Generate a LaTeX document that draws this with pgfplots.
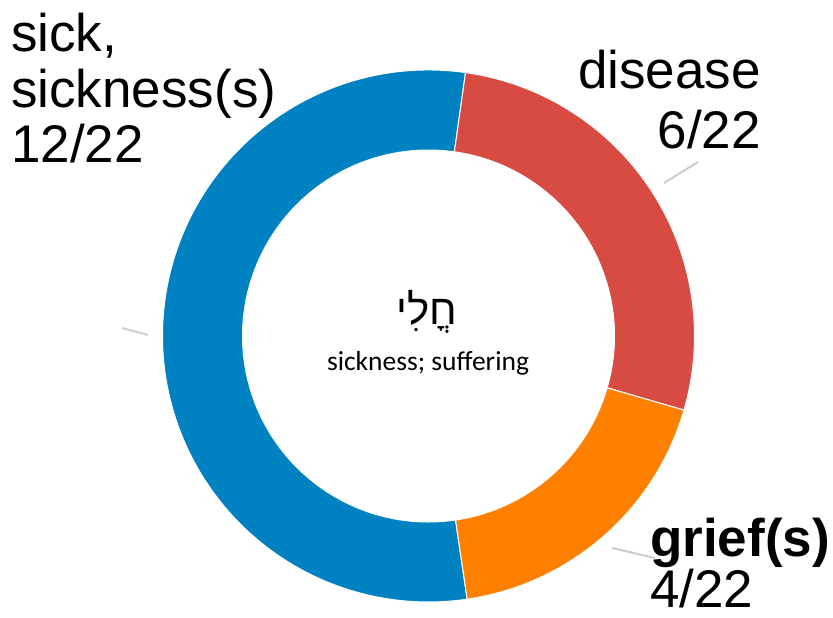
\documentclass[border=0pt]{standalone}
\usepackage{fontspec}
\usepackage{pgfplots}
\usepackage{pgfplotstable}
\pgfplotsset{compat=1.18}
\setmainfont{Liberation Sans}
\newfontfamily\calib{Carlito}
\newfontfamily\hebfont[Script=Hebrew]{Liberation Sans}
\TeXXeTstate=1
\definecolor{sickblue}{RGB}{0,129,194}
\definecolor{disred}{RGB}{215,75,67}
\definecolor{grieforange}{RGB}{255,128,0}
\definecolor{leader}{RGB}{204,204,204}

\pgfplotstableread{
label value
sick 12
disease 6
grief 4
}\slices

\begin{document}
\begin{tikzpicture}
\pgfplotstablegetelem{0}{value}\of\slices \pgfmathsetmacro{\vA}{\pgfplotsretval}
\pgfplotstablegetelem{1}{value}\of\slices \pgfmathsetmacro{\vB}{\pgfplotsretval}
\pgfplotstablegetelem{2}{value}\of\slices \pgfmathsetmacro{\vC}{\pgfplotsretval}
\pgfmathsetmacro{\tot}{\vA+\vB+\vC}
% start at 82 degrees, disease and grief clockwise, sick counter-clockwise
\pgfmathsetmacro{\aS}{82}
\pgfmathsetmacro{\aB}{\aS-360*\vB/\tot}
\pgfmathsetmacro{\aC}{\aB-360*\vC/\tot}
\pgfmathsetmacro{\aA}{\aS+360*\vA/\tot}
\def\Ro{266}
\def\Ri{186}
\begin{axis}[
  hide axis, x=1pt, y=1pt, scale only axis,
  xmin=0, xmax=833, ymin=0, ymax=618, clip=false,
]
\coordinate (c) at (axis cs:428.5,282);
% sick
\filldraw[fill=sickblue, draw=white, line width=1pt]
  ([shift={(\aS:\Ro pt)}]c) arc[start angle=\aS, end angle=\aA, radius=\Ro pt]
  -- ([shift={(\aA:\Ri pt)}]c) arc[start angle=\aA, end angle=\aS, radius=\Ri pt] -- cycle;
% disease
\filldraw[fill=disred, draw=white, line width=1pt]
  ([shift={(\aB:\Ro pt)}]c) arc[start angle=\aB, end angle=\aS, radius=\Ro pt]
  -- ([shift={(\aS:\Ri pt)}]c) arc[start angle=\aS, end angle=\aB, radius=\Ri pt] -- cycle;
% grief
\filldraw[fill=grieforange, draw=white, line width=1pt]
  ([shift={(\aC:\Ro pt)}]c) arc[start angle=\aC, end angle=\aB, radius=\Ro pt]
  -- ([shift={(\aB:\Ri pt)}]c) arc[start angle=\aB, end angle=\aC, radius=\Ri pt] -- cycle;
% leader lines
\draw[leader, line width=2pt] (axis cs:122,290) -- (axis cs:148,283);
\draw[leader, line width=2pt] (axis cs:664,435) -- (axis cs:698,456);
\draw[leader, line width=2pt] (axis cs:612,70) -- (axis cs:655,60);
% labels
\tikzset{lbl/.style={inner sep=0pt, font=\fontsize{53}{56}\selectfont}}
\node[lbl, anchor=base west] at (axis cs:11,566) {sick,};
\node[lbl, anchor=base west] at (axis cs:11,510) {sickness(s)};
\node[lbl, anchor=base west] at (axis cs:11,455) {12/22};
\node[lbl, anchor=base east] at (axis cs:761,529) {disease};
\node[lbl, anchor=base east] at (axis cs:761,469) {6/22};
\node[lbl, anchor=base west] at (axis cs:650,61) {\bfseries grief(s)};
\node[lbl, anchor=base west] at (axis cs:650,10) {4/22};
\node[anchor=base, inner sep=0pt] at (axis cs:427,293) {\fontsize{42}{46}\selectfont\hebfont\beginR חֳלִי\endR};
\node[anchor=base, inner sep=0pt] at (axis cs:428,247) {\fontsize{27.5}{30}\selectfont\calib sickness; suffering};
\end{axis}
\pgfresetboundingbox
\useasboundingbox (current axis.south west) rectangle (current axis.north east);
\end{tikzpicture}
\end{document}
